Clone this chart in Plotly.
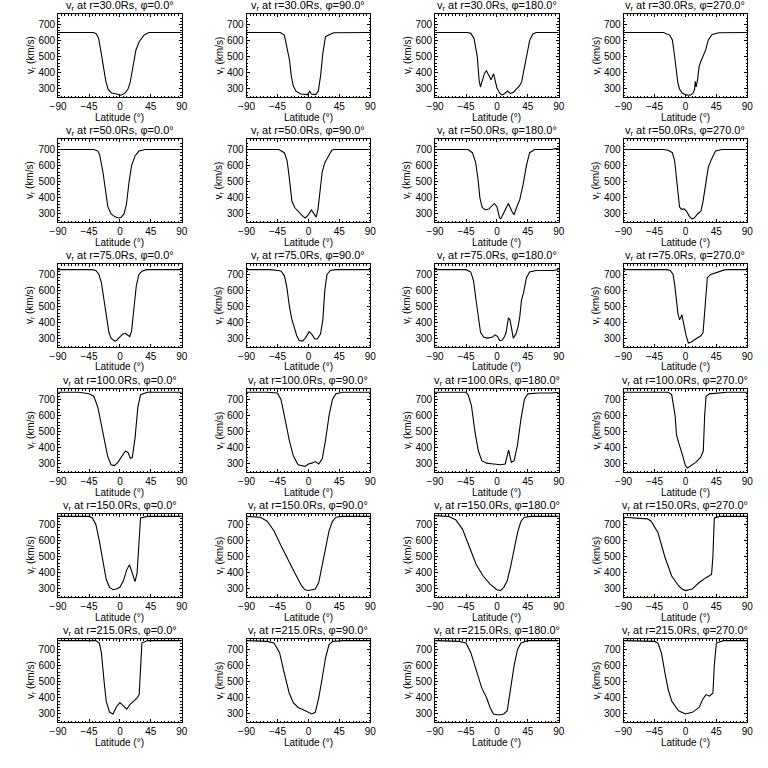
import plotly.graph_objects as go

RADII = [30.0, 50.0, 75.0, 100.0, 150.0, 215.0]
PHIS = [0.0, 90.0, 180.0, 270.0]
X_TICKS = [-90, -45, 0, 45, 90]
Y_TICKS = [300, 400, 500, 600, 700]

# ---- r = 30 Rs ----
LAT_R30_P0 = [-90, -38, -34, -31, -28, -24, -20.5, -17, -12, -5, 1, 6.7, 11.4, 14.8, 18.6, 23.3, 28, 35, 42, 90]
V_R30_P0 = [650, 650, 640, 614, 542, 440, 347, 296, 275, 269, 261, 271, 296, 337, 440, 542, 593, 634, 650, 650]
LAT_R30_P90 = [-90, -41, -35, -31, -27.6, -24.8, -21.9, -18.1, -11, -1.4, 1.9, 4.3, 10.5, 14.3, 17.6, 21, 24.8, 29.5, 36.7, 90]
V_R30_P90 = [650, 650, 634, 562, 481, 378, 316, 286, 269, 265, 286, 269, 265, 286, 378, 522, 624, 634, 649, 650]
LAT_R30_P180 = [-90, -43, -38, -33.3, -28.6, -26, -24, -21.4, -18, -15.2, -12, -8.6, -4.8, -2.4, 0, 3.8, 7, 11, 15.5, 19.5, 24, 28.6, 33, 36, 40, 44, 47.6, 52, 57, 90]
V_R30_P180 = [650, 650, 645, 614, 501, 357, 312, 357, 398, 413, 388, 357, 394, 347, 306, 275, 263, 270, 287, 272, 280, 300, 320, 345, 430, 520, 600, 640, 650, 650]
LAT_R30_P270 = [-90, -32, -23, -19, -15.7, -13.3, -11, -8.6, -4.8, 1, 6.7, 10.5, 13.3, 14.3, 15.7, 17.6, 20, 22.4, 24.8, 29.5, 33.3, 39, 48.6, 90]
V_R30_P270 = [650, 650, 634, 604, 501, 398, 337, 300, 275, 263, 261, 271, 296, 347, 312, 357, 440, 470, 491, 542, 604, 638, 649, 650]

# ---- r = 50 Rs ----
LAT_R50_P0 = [-90, -38, -32, -29.5, -24.8, -21, -17.6, -12.9, -7, -2, 2, 6, 9.5, 13.3, 17, 22, 27.6, 37, 90]
V_R50_P0 = [700, 700, 690, 666, 562, 438, 345, 300, 282, 275, 280, 300, 360, 500, 600, 660, 690, 700, 700]
LAT_R50_P90 = [-90, -43, -35, -31, -28, -24, -20, -14, -8, -4.8, -1, 4.3, 8, 11.4, 14, 17, 20, 24, 29, 34, 37, 90]
V_R50_P90 = [700, 700, 680, 630, 530, 380, 340, 310, 285, 275, 290, 325, 300, 280, 330, 460, 560, 620, 660, 695, 700, 700]
LAT_R50_P180 = [-90, -42, -35.7, -31, -27.6, -24.8, -21.4, -16.7, -11.9, -7, -3.8, 0, 3.8, 5.7, 9.5, 14.3, 16.7, 21.4, 24.8, 28.6, 33.3, 38, 42.9, 47.6, 54.8, 80, 85, 90]
V_R50_P180 = [700, 700, 680, 620, 520, 400, 340, 325, 330, 350, 365, 345, 275, 270, 300, 340, 365, 320, 295, 340, 390, 480, 600, 680, 700, 700, 705, 705]
LAT_R50_P270 = [-90, -32, -25, -19, -15.7, -13.3, -11, -8.6, -6.2, -1.4, 1.9, 5.7, 9.5, 12.9, 17.6, 22.4, 25.7, 29.5, 33.3, 38, 43.8, 53.3, 90]
V_R50_P270 = [700, 700, 695, 680, 630, 530, 420, 345, 330, 330, 315, 285, 270, 275, 300, 315, 380, 500, 590, 640, 690, 700, 700]

# ---- r = 75 Rs ----
LAT_R75_P0 = [-90, -41, -35, -30.5, -27, -24, -20, -16, -12.9, -8, -5.7, -1, 3.8, 7.6, 11, 14.3, 17, 20.5, 23.8, 27.6, 32, 39, 90]
V_R75_P0 = [730, 730, 725, 700, 650, 560, 430, 340, 305, 288, 288, 310, 330, 335, 325, 315, 350, 500, 630, 700, 720, 730, 730]
LAT_R75_P90 = [-90, -56, -44, -39.5, -34.8, -31.4, -27.6, -24, -20.5, -17, -13.3, -8.6, -3.8, 1, 4.8, 9.5, 12.9, 17.6, 21, 23.8, 27, 32, 39, 90]
V_R75_P90 = [730, 730, 725, 720, 690, 620, 500, 420, 370, 320, 290, 287, 310, 345, 330, 300, 300, 330, 420, 600, 700, 725, 730, 730]
LAT_R75_P180 = [-90, -45, -38, -34, -31, -27.6, -23.8, -19, -14.3, -7, -2.4, 1, 3.8, 7, 10.5, 13.3, 16.7, 19, 21.4, 23.8, 27.6, 31, 33.3, 35.7, 39, 42.9, 47.6, 57, 81, 86, 90]
V_R75_P180 = [730, 730, 715, 660, 560, 450, 340, 310, 305, 310, 325, 315, 290, 290, 310, 340, 430, 420, 350, 305, 330, 380, 440, 540, 590, 680, 715, 725, 725, 730, 730]
LAT_R75_P270 = [-90, -27.6, -22, -18, -15.7, -13.3, -11, -8.6, -7, -5.2, -3.8, -1.4, 1, 4.3, 8, 15, 22.4, 25.7, 28.6, 31.9, 36.7, 43.8, 51, 58, 90]
V_R75_P270 = [730, 730, 725, 700, 640, 560, 460, 420, 430, 450, 420, 380, 320, 275, 280, 300, 320, 340, 520, 680, 700, 710, 725, 730, 730]

# ---- r = 100 Rs ----
LAT_R100_P0 = [-90, -60, -45, -38, -32, -25, -18, -13, -8, -3, 3, 8, 12, 15, 18, 22, 26, 30, 40, 90]
V_R100_P0 = [745, 745, 735, 720, 650, 500, 350, 295, 290, 310, 345, 380, 370, 335, 340, 460, 650, 730, 745, 745]
LAT_R100_P90 = [-90, -60, -45, -40, -35, -28, -22, -15, -5, 0, 5, 10, 15, 20, 25, 30, 35, 40, 50, 90]
V_R100_P90 = [745, 745, 740, 700, 600, 450, 350, 295, 285, 300, 305, 315, 300, 330, 450, 600, 700, 735, 745, 745]
LAT_R100_P180 = [-90, -45, -42, -37, -32, -27, -22, -15, -5, 5, 12, 17, 21, 25, 30, 35, 40, 45, 60, 80, 90]
V_R100_P180 = [745, 745, 730, 660, 500, 380, 320, 305, 300, 295, 300, 385, 310, 320, 420, 580, 700, 735, 740, 740, 745]
LAT_R100_P270 = [-90, -25, -20, -15, -13, -11, -9, -6, -3, 0, 3, 8, 15, 22, 26, 28, 30, 35, 45, 60, 90]
V_R100_P270 = [745, 745, 730, 600, 480, 440, 420, 380, 340, 290, 275, 290, 310, 340, 380, 600, 720, 735, 740, 745, 745]

# ---- r = 150 Rs ----
LAT_R150_P0 = [-90, -45, -40, -35, -30, -25, -20, -15, -10, -5, 0, 5, 10, 14, 18, 22, 25, 28, 30, 40, 90]
V_R150_P0 = [750, 750, 740, 700, 600, 480, 360, 310, 295, 300, 310, 350, 420, 450, 400, 345, 400, 650, 740, 750, 750]
LAT_R150_P90 = [-90, -70, -60, -50, -40, -30, -20, -10, -5, 0, 5, 10, 15, 20, 25, 30, 35, 40, 50, 90]
V_R150_P90 = [750, 745, 720, 660, 570, 480, 400, 320, 295, 290, 295, 300, 340, 450, 560, 660, 720, 745, 750, 750]
LAT_R150_P180 = [-90, -70, -60, -50, -40, -30, -20, -10, 0, 5, 10, 15, 20, 25, 30, 35, 40, 50, 90]
V_R150_P180 = [755, 750, 730, 670, 560, 450, 380, 330, 295, 290, 310, 350, 440, 550, 650, 720, 745, 750, 750]
LAT_R150_P270 = [-90, -55, -50, -40, -30, -20, -10, -5, 0, 10, 15, 20, 30, 35, 38, 40, 42, 50, 90]
V_R150_P270 = [745, 735, 720, 650, 500, 380, 320, 300, 290, 300, 320, 340, 370, 380, 390, 500, 740, 750, 750]

# ---- r = 215 Rs ----
LAT_R215_P0 = [-90, -35, -30, -27, -23, -20, -15, -10, -5, 0, 5, 10, 15, 20, 25, 28, 30, 32, 40, 90]
V_R215_P0 = [755, 755, 740, 680, 500, 380, 310, 300, 345, 370, 350, 330, 360, 380, 400, 420, 600, 740, 755, 755]
LAT_R215_P90 = [-90, -60, -50, -42, -35, -28, -22, -15, -10, -5, 0, 5, 10, 15, 20, 25, 30, 35, 50, 90]
V_R215_P90 = [755, 750, 740, 680, 550, 430, 370, 340, 330, 320, 310, 300, 310, 400, 520, 650, 730, 750, 755, 755]
LAT_R215_P180 = [-90, -55, -45, -38, -30, -22, -15, -10, -5, 0, 5, 10, 15, 20, 25, 30, 35, 45, 90]
V_R215_P180 = [755, 750, 740, 680, 570, 460, 400, 340, 300, 295, 295, 300, 320, 450, 600, 700, 740, 755, 755]
LAT_R215_P270 = [-90, -45, -40, -35, -30, -25, -20, -10, 0, 10, 20, 25, 30, 35, 40, 42, 45, 55, 90]
V_R215_P270 = [755, 750, 740, 680, 560, 450, 380, 320, 300, 310, 340, 390, 420, 410, 430, 600, 740, 755, 755]

SERIES = {
    (30.0, 0.0): (LAT_R30_P0, V_R30_P0), (30.0, 90.0): (LAT_R30_P90, V_R30_P90),
    (30.0, 180.0): (LAT_R30_P180, V_R30_P180), (30.0, 270.0): (LAT_R30_P270, V_R30_P270),
    (50.0, 0.0): (LAT_R50_P0, V_R50_P0), (50.0, 90.0): (LAT_R50_P90, V_R50_P90),
    (50.0, 180.0): (LAT_R50_P180, V_R50_P180), (50.0, 270.0): (LAT_R50_P270, V_R50_P270),
    (75.0, 0.0): (LAT_R75_P0, V_R75_P0), (75.0, 90.0): (LAT_R75_P90, V_R75_P90),
    (75.0, 180.0): (LAT_R75_P180, V_R75_P180), (75.0, 270.0): (LAT_R75_P270, V_R75_P270),
    (100.0, 0.0): (LAT_R100_P0, V_R100_P0), (100.0, 90.0): (LAT_R100_P90, V_R100_P90),
    (100.0, 180.0): (LAT_R100_P180, V_R100_P180), (100.0, 270.0): (LAT_R100_P270, V_R100_P270),
    (150.0, 0.0): (LAT_R150_P0, V_R150_P0), (150.0, 90.0): (LAT_R150_P90, V_R150_P90),
    (150.0, 180.0): (LAT_R150_P180, V_R150_P180), (150.0, 270.0): (LAT_R150_P270, V_R150_P270),
    (215.0, 0.0): (LAT_R215_P0, V_R215_P0), (215.0, 90.0): (LAT_R215_P90, V_R215_P90),
    (215.0, 180.0): (LAT_R215_P180, V_R215_P180), (215.0, 270.0): (LAT_R215_P270, V_R215_P270),
}

W = H = 768
FONT = "Liberation Sans"
fig = go.Figure()
layout = {}
annotations = []

for i, r in enumerate(RADII):
    for j, p in enumerate(PHIS):
        k = i * 4 + j + 1
        suf = "" if k == 1 else str(k)
        lat, v = SERIES[(r, p)]
        fig.add_trace(go.Scatter(x=lat, y=v, xaxis="x" + suf, yaxis="y" + suf,
                                 mode="lines", line=dict(color="black", width=1.1),
                                 showlegend=False, hoverinfo="skip"))
        left = 51 + 192 * j
        top = 14 + 125 * i
        pw, ph = 126, 83
        common = dict(showline=True, linecolor="black", linewidth=1, mirror="allticks",
                      ticks="inside", ticklen=3, tickcolor="black", tickwidth=1,
                      showgrid=False, zeroline=False,
                      tickfont=dict(family=FONT, size=10, color="black"))
        layout["xaxis" + suf] = dict(common, domain=[left / W, (left + pw) / W], anchor="y" + suf,
                                     range=[-90, 90], tickvals=X_TICKS,
                                     minor=dict(ticks="inside", ticklen=1.5, dtick=5, tickcolor="black", showgrid=False))
        layout["yaxis" + suf] = dict(common, domain=[1 - (top + ph) / H, 1 - top / H], anchor="x" + suf,
                                     range=[250, 765], tickvals=Y_TICKS,
                                     minor=dict(ticks="inside", ticklen=1.5, dtick=20, tickcolor="black", showgrid=False))
        annotations.append(dict(text=f"v<sub>r</sub> at r={r:.1f}Rs, φ={p:.1f}°",
                                x=(left + pw / 2) / W, y=1 - (top - 8) / H, xref="paper", yref="paper",
                                xanchor="center", yanchor="middle", showarrow=False,
                                font=dict(family=FONT, size=11, color="black")))
        annotations.append(dict(text="v<sub>r</sub> (km/s)", textangle=-90,
                                x=(left - 28) / W, y=1 - (top + ph / 2) / H, xref="paper", yref="paper",
                                xanchor="center", yanchor="middle", showarrow=False,
                                font=dict(family=FONT, size=10, color="black")))
        annotations.append(dict(text="Latitude (°)",
                                x=(left + pw / 2) / W, y=1 - (top + ph + 20) / H, xref="paper", yref="paper",
                                xanchor="center", yanchor="middle", showarrow=False,
                                font=dict(family=FONT, size=10, color="black")))

fig.update_layout(**layout)
fig.update_layout(width=W, height=H, margin=dict(l=0, r=0, t=0, b=0),
                  paper_bgcolor="white", plot_bgcolor="white",
                  annotations=annotations, showlegend=False)
fig.write_html("out.html", config={"displayModeBar": False, "staticPlot": True},
               post_script="document.body.style.margin='0';document.body.style.overflow='hidden';")
